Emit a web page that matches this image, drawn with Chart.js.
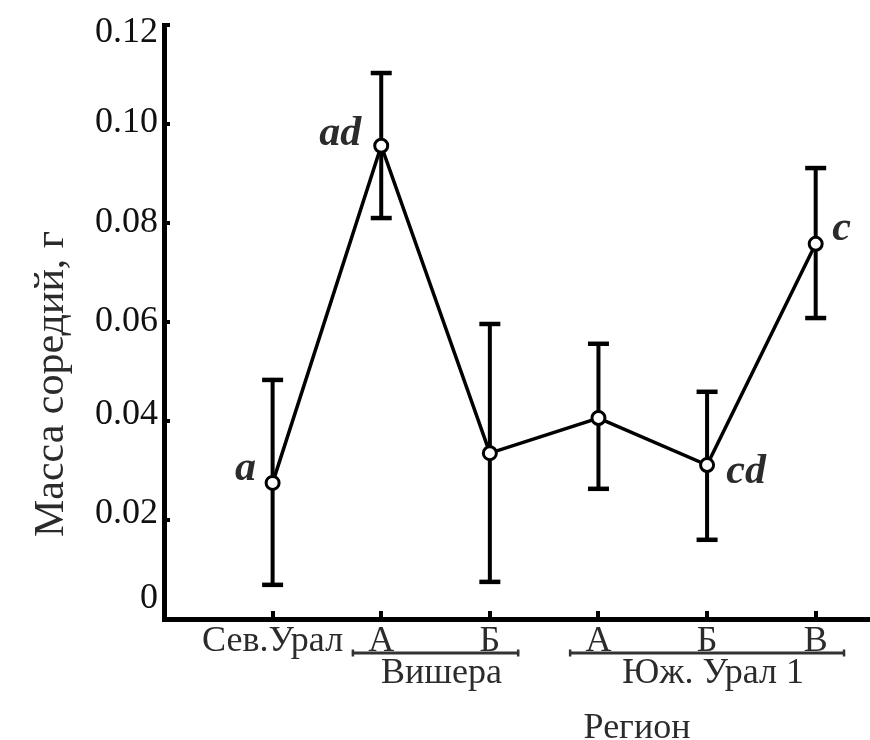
<!DOCTYPE html>
<html>
<head>
<meta charset="utf-8">
<script src="https://cdn.jsdelivr.net/npm/chart.js@4.4.1/dist/chart.umd.min.js"></script>
<style>
html, body { margin: 0; padding: 0; background: #fff; }
#wrap { width: 870px; height: 740px; position: relative; }
</style>
</head>
<body>
<div id="wrap"><canvas id="c" width="870" height="740"></canvas></div>
<script>
// ---- data ----
const categories = ['Сев.Урал', 'А', 'Б', 'А', 'Б', 'В'];
const means = [0.0275, 0.0956, 0.0335, 0.0406, 0.0311, 0.0758];
const upper = [0.0483, 0.1103, 0.0596, 0.0556, 0.0459, 0.0911];
const lower = [0.0069, 0.0810, 0.0075, 0.0263, 0.0160, 0.0608];
const letters = ['a', 'ad', '', '', 'cd', 'c'];
const groupLabels = ['Вишера', 'Юж. Урал 1'];
const groupFrom = [1, 3];   // category index of first member
const groupTo = [2, 5];     // category index of last member
const yTickValues = [0, 0.02, 0.04, 0.06, 0.08, 0.10, 0.12];
const yTickLabels = ['0', '0.02', '0.04', '0.06', '0.08', '0.10', '0.12'];
const yTitle = 'Масса соредий, г';
const xTitle = 'Регион';

// ---- style / layout ----
const SERIF = '"Liberation Serif", "Times New Roman", serif';
const yLabelShift = [-20, -6, -6, 0, 0, -1, 8];
const letterOffsets = [[-27, -3], [-41, -1], null, null, [39, 18], [26, -4]];
const TEXT = '#2b2b2b';

const meanPts = means.map((v, i) => ({ x: i + 1, y: v }));
const errPts = [];
categories.forEach((c, i) => {
  errPts.push({ x: i + 1, y: lower[i] });
  errPts.push({ x: i + 1, y: upper[i] });
  errPts.push({ x: i + 1, y: null });
});

const overlay = {
  id: 'overlay',
  afterDraw(chart) {
    const ctx = chart.ctx;
    const xs = chart.scales.x, ys = chart.scales.y;
    ctx.save();
    // significance letters
    ctx.fillStyle = TEXT;
    ctx.font = 'italic bold 42px ' + SERIF;
    ctx.textAlign = 'center';
    ctx.textBaseline = 'alphabetic';
    letters.forEach((t, i) => {
      if (!t) return;
      const o = letterOffsets[i];
      ctx.fillText(t, xs.getPixelForValue(i + 1) + o[0], ys.getPixelForValue(means[i]) + o[1]);
    });
    // group brackets
    const by = xs.top + 34;
    groupLabels.forEach((g, k) => {
      const x1 = xs.getPixelForValue(groupFrom[k] + 1 - 0.27);
      const x2 = xs.getPixelForValue(groupTo[k] + 1 + 0.27);
      ctx.strokeStyle = '#333';
      ctx.lineWidth = 3;
      ctx.beginPath(); ctx.moveTo(x1, by); ctx.lineTo(x2, by); ctx.stroke();
      ctx.lineWidth = 2.5;
      ctx.beginPath();
      ctx.moveTo(x1 + 1, by - 3.5); ctx.lineTo(x1 + 1, by + 3.5);
      ctx.moveTo(x2 - 1, by - 3.5); ctx.lineTo(x2 - 1, by + 3.5);
      ctx.stroke();
      ctx.fillStyle = TEXT;
      ctx.font = '36px ' + SERIF;
      ctx.textAlign = 'center';
      ctx.textBaseline = 'alphabetic';
      ctx.fillText(g, (x1 + x2) / 2 + 6, xs.top + 64);
    });
    // axis titles
    ctx.fillStyle = TEXT;
    ctx.font = '36px ' + SERIF;
    ctx.textAlign = 'center';
    ctx.fillText(xTitle, 637, 738);
    ctx.save();
    ctx.translate(63, 384);
    ctx.rotate(-Math.PI / 2);
    ctx.font = '42px ' + SERIF;
    ctx.fillStyle = TEXT;
    ctx.textAlign = 'center';
    ctx.textBaseline = 'alphabetic';
    ctx.fillText(yTitle, 0, 0);
    ctx.restore();
    ctx.restore();
  }
};

new Chart(document.getElementById('c'), {
  type: 'line',
  data: {
    datasets: [
      {
        label: 'Масса соредий',
        data: meanPts,
        borderColor: '#000',
        borderWidth: 3.5,
        pointRadius: 6.5,
        pointBorderWidth: 3,
        pointBackgroundColor: '#fff',
        pointBorderColor: '#000',
        tension: 0,
        order: 0
      },
      {
        label: 'Ошибка',
        data: errPts,
        borderColor: '#000',
        borderWidth: 4,
        pointStyle: 'line',
        pointRadius: 10.5,
        pointBorderWidth: 4.5,
        pointBorderColor: '#000',
        spanGaps: false,
        order: 1
      }
    ]
  },
  options: {
    responsive: false,
    animation: false,
    events: [],
    layout: { autoPadding: false, padding: { top: 25, left: 0, right: 0, bottom: 0 } },
    plugins: { legend: { display: false }, tooltip: { enabled: false } },
    scales: {
      x: {
        type: 'linear',
        min: 0,
        max: 6.5,
        afterBuildTicks: s => { s.ticks = categories.map((c, i) => ({ value: i + 1 })); },
        afterFit: s => { s.height = 121; s.paddingLeft = 0; s.paddingRight = 0; },
        grid: { drawOnChartArea: false, drawTicks: true, tickLength: -8, lineWidth: 4, color: '#000' },
        border: { display: true, width: 5, color: '#000' },
        ticks: {
          autoSkip: false,
          maxRotation: 0,
          padding: 9,
          color: TEXT,
          font: { family: SERIF, size: 36, lineHeight: 1.2 },
          callback: (v, i) => categories[i]
        }
      },
      y: {
        type: 'linear',
        min: 0,
        max: 0.12,
        afterBuildTicks: s => { s.ticks = yTickValues.map(v => ({ value: v })); },
        afterFit: s => { s.width = 164; s.paddingTop = 0; s.paddingBottom = 0; },
        grid: { drawOnChartArea: false, drawTicks: true, tickLength: -6, lineWidth: 4, color: '#000' },
        border: { display: true, width: 5, color: '#000' },
        ticks: {
          autoSkip: false,
          padding: 12,
          color: '#111',
          font: ctx => {
            const s = yLabelShift[ctx.index] || 0;
            return { family: SERIF, size: 36, lineHeight: s ? (2 * Math.abs(s)) + 'px' : 1.2 };
          },
          callback: (v, i) => {
            const s = yLabelShift[i] || 0;
            const t = yTickLabels[i];
            return s < 0 ? [t, ''] : (s > 0 ? ['', t] : t);
          }
        }
      }
    }
  },
  plugins: [overlay]
});
</script>
</body>
</html>
